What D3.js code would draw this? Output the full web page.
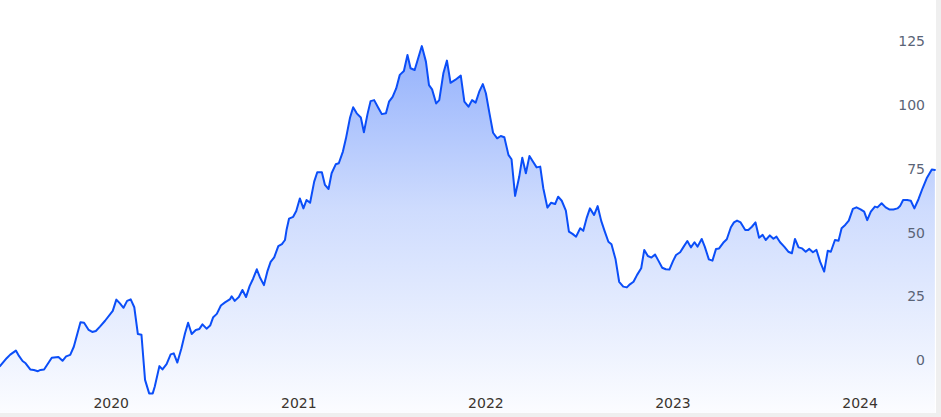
<!DOCTYPE html>
<html>
<head>
<meta charset="utf-8">
<script src="https://cdn.jsdelivr.net/npm/d3@7"></script>
<style>
  html, body { margin: 0; padding: 0; background: #ffffff; }
  svg { display: block; }
</style>
</head>
<body>
<script>
// ---- data ----
const startDate = "2019-05-30";   // first observation
const endDate   = "2024-05-28";   // last observation
// days elapsed since startDate for each observation
const dayOffsets = [0,13,20,31,37,44,50,59,66,74,79,86,101,114,122,129,137,144,157,164,173,180,187,195,205,220,227,234,241,248,255,262,269,276,283,291,298,302,311,317,325,333,339,346,354,361,367,374,382,389,395,403,410,416,423,431,439,449,452,458,466,473,480,487,494,501,507,515,522,528,535,543,550,556,559,564,572,578,585,592,598,605,613,619,628,634,641,647,655,661,669,675,683,689,696,704,710,717,723,730,738,745,753,759,766,773,780,788,795,801,809,823,831,837,843,851,857,865,872,879,888,899,906,914,921,928,935,942,948,955,962,970,977,984,992,998,1005,1013,1019,1026,1033,1040,1047,1054,1060,1068,1075,1083,1089,1096,1104,1110,1117,1124,1132,1138,1145,1151,1159,1166,1173,1180,1187,1193,1201,1208,1216,1223,1229,1236,1243,1251,1257,1264,1271,1278,1284,1292,1299,1306,1313,1319,1327,1333,1341,1348,1355,1361,1369,1375,1383,1390,1397,1403,1411,1418,1426,1432,1438,1445,1454,1460,1467,1474,1481,1488,1494,1502,1509,1515,1522,1530,1538,1545,1551,1558,1565,1572,1579,1586,1593,1600,1608,1615,1621,1629,1636,1642,1649,1656,1664,1671,1679,1686,1692,1699,1707,1712,1720,1728,1735,1743,1751,1756,1762,1770,1777,1784,1792,1800,1808,1818,1824];
const prices = [-2.4,0.7,2.1,3.7,1.6,-0.4,-1.3,-3.7,-3.9,-4.4,-3.9,-3.7,0.9,1.2,-0.3,1.4,2.0,5.2,14.8,14.6,11.8,11.0,11.4,13.1,15.4,19.3,23.7,22.2,20.5,23.2,23.8,20.7,10.2,9.9,-7.8,-13.1,-13.1,-10.4,-2.4,-3.7,-1.6,2.2,2.6,-1.0,4.6,10.5,14.6,10.2,11.8,12.2,14.0,12.3,13.5,16.8,18.1,21.4,22.6,23.9,25.0,23.2,24.7,27.5,24.7,29.0,32.0,35.6,32.5,29.4,35.0,38.5,40.3,44.7,45.5,47.1,51.0,55.5,56.2,58.5,63.4,59.5,62.8,61.7,70.0,73.7,73.7,68.7,67.1,73.3,76.8,77.2,81.8,87.0,95.2,99.2,96.8,95.2,89.4,96.5,101.6,102.0,99.0,96.5,96.8,101.4,103.3,106.6,111.9,113.4,119.7,114.5,113.8,123.2,117.1,107.9,106.2,100.7,102.0,112.5,117.5,108.8,109.9,111.6,101.4,99.4,102.0,101.0,105.3,108.3,104.7,96.8,89.2,87.0,87.9,87.4,80.5,78.8,64.4,71.9,79.4,73.3,80.1,77.8,75.6,75.9,67.4,59.8,61.7,61.2,64.1,62.5,58.6,50.4,49.5,48.4,51.7,50.7,56.0,59.5,56.9,60.4,54.6,50.4,46.4,45.4,39.5,30.7,28.8,28.5,29.7,30.7,33.4,36.0,43.2,40.8,40.2,41.4,39.2,36.2,35.6,35.5,38.8,41.2,42.3,44.2,46.7,44.2,46.2,44.5,47.5,44.5,39.5,39.0,43.6,43.8,46.0,47.4,52.1,54.0,54.7,54.0,51.0,51.0,52.3,54.0,48.0,49.1,47.1,48.9,47.6,48.4,46.2,44.5,42.5,41.9,47.5,44.2,43.8,42.5,43.6,42.3,43.2,38.6,34.7,42.9,42.5,47.1,46.8,51.7,53.0,54.7,59.3,59.9,59.1,58.2,54.9,58.2,60.2,59.9,61.5,59.9,59.1,59.1,59.5,60.4,62.8,62.8,62.5,59.5,63.1,67.4,71.3,74.8,74.6];
const yearTicks  = ["2020", "2021", "2022", "2023", "2024"];
const priceTicks = [0, 25, 50, 75, 100, 125];

// ---- layout ----
const W = 941, H = 417;
const plotRight = 935.4, plotBottom = 413;

const parse = d3.utcParse("%Y-%m-%d");
const t0 = parse(startDate), t1 = parse(endDate);
const data = dayOffsets.map((d, i) => ({ date: d3.utcDay.offset(t0, d), value: prices[i] }));

const svg = d3.select("body").append("svg").attr("width", W).attr("height", H);

// page frame strips
svg.append("rect").attr("x", 0).attr("y", 0).attr("width", W).attr("height", H).attr("fill", "#ffffff");
svg.append("rect").attr("x", 936).attr("y", 0).attr("width", W - 936).attr("height", H).attr("fill", "#efefef");
svg.append("rect").attr("x", 0).attr("y", plotBottom).attr("width", W).attr("height", H - plotBottom).attr("fill", "#efefef");

const x = d3.scaleUtc().domain([t0, t1]).range([0, plotRight]);
const y = d3.scaleLinear().domain([0, 125]).range([360, 41.5]);

const blue = "#0b4ef8";

const defs = svg.append("defs");
const grad = defs.append("linearGradient").attr("id", "fillGrad")
  .attr("gradientUnits", "userSpaceOnUse")
  .attr("x1", 0).attr("x2", 0).attr("y1", y(125)).attr("y2", plotBottom);
grad.append("stop").attr("offset", "0%").attr("stop-color", blue).attr("stop-opacity", 0.45);
grad.append("stop").attr("offset", "45%").attr("stop-color", blue).attr("stop-opacity", 0.2);
grad.append("stop").attr("offset", "100%").attr("stop-color", blue).attr("stop-opacity", 0.015);

const area = d3.area().x(d => x(d.date)).y0(plotBottom).y1(d => y(d.value));
const line = d3.line().x(d => x(d.date)).y(d => y(d.value));

svg.append("path").datum(data).attr("d", area).attr("fill", "url(#fillGrad)");
svg.append("path").datum(data).attr("d", line)
  .attr("fill", "none").attr("stroke", blue).attr("stroke-width", 2)
  .attr("stroke-linejoin", "round").attr("stroke-linecap", "round");

const font = "'DejaVu Sans', 'Liberation Sans', Arial, sans-serif";

// y axis (labels on the right)
const yAxis = d3.axisLeft(y).tickValues(priceTicks).tickSize(0).tickPadding(0);
const gy = svg.append("g").attr("transform", "translate(925,0)").call(yAxis);
gy.select(".domain").remove();
gy.selectAll("text")
  .attr("fill", "#5a6477")
  .style("font-family", font)
  .style("font-size", "14px");

// x axis (year labels)
const xAxis = d3.axisBottom(x)
  .tickValues(yearTicks.map(s => parse(s + "-01-01")))
  .tickFormat(d3.utcFormat("%Y"))
  .tickSize(0).tickPadding(0);
const gx = svg.append("g").attr("transform", "translate(0,398)").call(xAxis);
gx.select(".domain").remove();
gx.selectAll("text")
  .attr("fill", "#3a342e")
  .style("font-family", font)
  .style("font-size", "14px");
</script>
</body>
</html>
